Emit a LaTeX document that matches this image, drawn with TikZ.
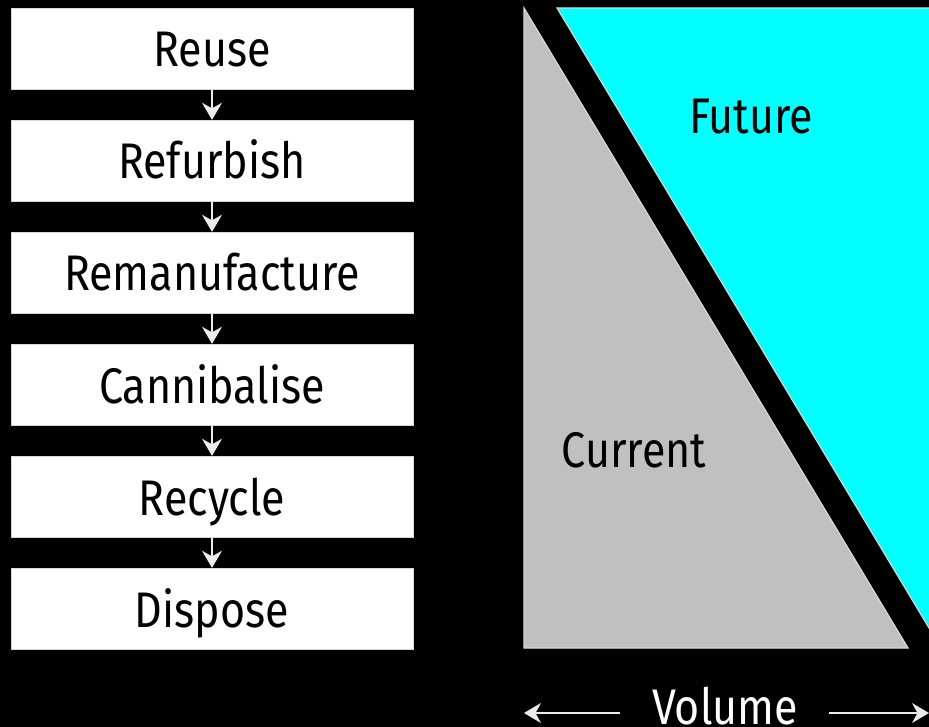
\documentclass[tikz,border=0pt]{standalone}
\usepackage{fontspec}
\setmainfont{Fira Sans}[FakeStretch=0.86]
\usetikzlibrary{arrows.meta,positioning}
\definecolor{boxline}{RGB}{215,215,215}
\definecolor{current}{RGB}{192,192,192}
\definecolor{future}{RGB}{0,255,255}
\tikzstyle{stage} = [draw=boxline, fill=white, minimum width=402pt, minimum height=81pt, inner sep=0pt, text height=40pt, text depth=3pt, font=\fontsize{50}{54}\selectfont]
\tikzstyle{arrow} = [draw=white!92!black, line width=1.3pt, -{Stealth[length=17pt,width=20pt]}]
\tikzstyle{label} = [font=\fontsize{50}{54}\selectfont]

\begin{document}
\begin{tikzpicture}[x=1pt,y=-1pt]
    \useasboundingbox (0,0) rectangle (929,727);
    \clip (0,0) rectangle (929,727);
    \fill[black] (0,0) rectangle (929,727);
    % stages
    \node[stage] (reuse) at (212,48.5) {Reuse};
    \node[stage, below=30.6pt of reuse] (refurbish) {Refurbish};
    \node[stage, below=30.6pt of refurbish] (reman) {Remanufacture};
    \node[stage, below=30.6pt of reman] (cannibalise) {Cannibalise};
    \node[stage, below=30.6pt of cannibalise] (recycle) {Recycle};
    \node[stage, below=30.6pt of recycle] (dispose) {Dispose};
    \draw[arrow] (reuse) -- (refurbish);
    \draw[arrow] (refurbish) -- (reman);
    \draw[arrow] (reman) -- (cannibalise);
    \draw[arrow] (cannibalise) -- (recycle);
    \draw[arrow] (recycle) -- (dispose);
    % volume triangles
    \filldraw[fill=current, draw=boxline, line width=1.2pt] (524,8) -- (524,648) -- (908,648) -- cycle;
    \filldraw[fill=future, draw=boxline, line width=1.2pt] (557,8) -- (941,648) -- (941,8) -- cycle;
    \node[label] (future) at (751,117) {Future};
    \node[label] (current) at (634,450) {Current};
    % volume axis
    \node[label, text=white, anchor=base, inner sep=0pt] (volume) at (725,724) {Volume};
    \coordinate (vleft) at (524,713);
    \coordinate (vright) at (929,713);
    \coordinate (vla) at (620,713);
    \coordinate (vra) at (829,713);
    \draw[arrow] (vla) -- (vleft);
    \draw[arrow] (vra) -- (vright);
\end{tikzpicture}
\end{document}
